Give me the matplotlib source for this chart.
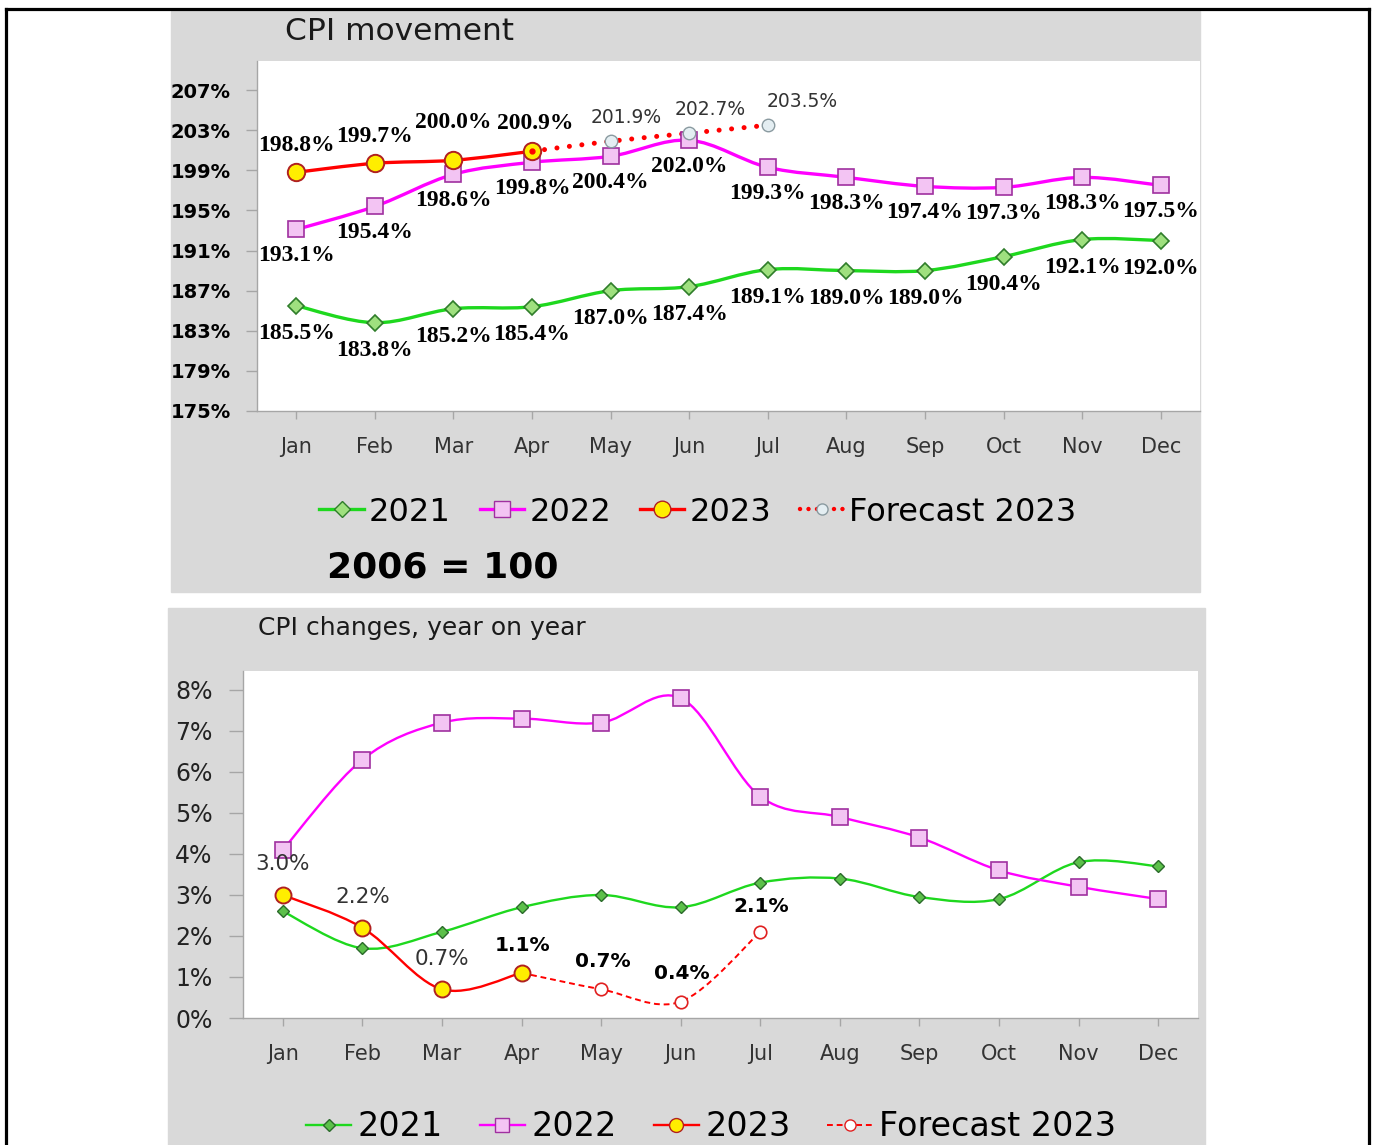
import matplotlib
matplotlib.use("Agg")
import matplotlib.pyplot as plt
from matplotlib.path import Path
from matplotlib.patches import PathPatch, Rectangle
from matplotlib.lines import Line2D

months = ['Jan', 'Feb', 'Mar', 'Apr', 'May', 'Jun', 'Jul', 'Aug', 'Sep', 'Oct', 'Nov', 'Dec']

# CPI index, 2006 = 100 (in %)
cpi_2021 = [185.5, 183.8, 185.2, 185.4, 187.0, 187.4, 189.1, 189.0, 189.0, 190.4, 192.1, 192.0]
cpi_2022 = [193.1, 195.4, 198.6, 199.8, 200.4, 202.0, 199.3, 198.3, 197.4, 197.3, 198.3, 197.5]
cpi_2023 = [198.8, 199.7, 200.0, 200.9]
cpi_fc_start = 3  # forecast starts at Apr
cpi_fc = [200.9, 201.9, 202.7, 203.5]

# year on year changes (in %)
yoy_2021 = [2.6, 1.7, 2.1, 2.7, 3.0, 2.7, 3.3, 3.4, 2.95, 2.9, 3.8, 3.7]
yoy_2022 = [4.1, 6.3, 7.2, 7.3, 7.2, 7.8, 5.4, 4.9, 4.4, 3.6, 3.2, 2.9]
yoy_2023 = [3.0, 2.2, 0.7, 1.1]
yoy_fc = [1.1, 0.7, 0.4, 2.1]

GREEN = '#1ed81e'
MAGENTA = '#ff00ff'
RED = '#ff0000'
PANEL = '#d9d9d9'
AXIS = '#a6a6a6'

W, H = 1376, 1145


def fx(px):
    return px / W


def fy(py):
    return 1 - py / H


def smooth_path(xs, ys):
    # Excel style smoothed line: cubic Bezier through the points
    pts = list(zip(xs, ys))
    verts = [pts[0]]
    codes = [Path.MOVETO]
    n = len(pts)
    for i in range(n - 1):
        p0 = pts[i - 1] if i > 0 else pts[i]
        p1 = pts[i]
        p2 = pts[i + 1]
        p3 = pts[i + 2] if i + 2 < n else pts[i + 1]
        c1 = (p1[0] + (p2[0] - p0[0]) / 6, p1[1] + (p2[1] - p0[1]) / 6)
        c2 = (p2[0] - (p3[0] - p1[0]) / 6, p2[1] - (p3[1] - p1[1]) / 6)
        verts += [c1, c2, p2]
        codes += [Path.CURVE4] * 3
    return Path(verts, codes)


def draw_line(ax, xs, ys, color, lw, ls='-', cap='butt', z=2):
    patch = PathPatch(smooth_path(xs, ys), facecolor='none', edgecolor=color,
                      linewidth=lw, linestyle=ls, capstyle=cap, zorder=z)
    ax.add_patch(patch)


def style_axes(ax):
    ax.set_facecolor('white')
    for s in ['top', 'right']:
        ax.spines[s].set_visible(False)
    for s in ['left', 'bottom']:
        ax.spines[s].set_color(AXIS)
        ax.spines[s].set_linewidth(1)
    ax.set_xlim(-0.5, 11.5)
    ax.set_xticks(range(12), months)
    ax.tick_params(axis='x', length=6, width=1, color=AXIS, pad=13,
                   labelsize=15, labelcolor='#333333')


fig = plt.figure(figsize=(W / 100, H / 100), dpi=100)

# grey chart panels
fig.add_artist(Rectangle((fx(171), fy(592)), (1200 - 171) / W, (592 - 11) / H,
                         transform=fig.transFigure, color=PANEL, zorder=0))
fig.add_artist(Rectangle((fx(168), fy(1150)), (1205 - 168) / W, (1150 - 608) / H,
                         transform=fig.transFigure, color=PANEL, zorder=0))

# page frame
for xs, ys in [([fx(6), fx(6)], [fy(1150), fy(9)]),
               ([fx(6), fx(1369)], [fy(9), fy(9)]),
               ([fx(1369), fx(1369)], [fy(9), fy(1150)])]:
    fig.add_artist(Line2D(xs, ys, transform=fig.transFigure, color='black', lw=2.3))

x_all = list(range(12))
x_2023 = list(range(len(cpi_2023)))
x_fc = list(range(cpi_fc_start, cpi_fc_start + len(cpi_fc)))

# ---------------- top chart: CPI movement ----------------
ax1 = fig.add_axes([fx(257), fy(411), (1200 - 257) / W, (411 - 61) / H])
style_axes(ax1)
ax1.set_ylim(175, 209.9)
yt = list(range(175, 208, 4))
ax1.set_yticks(yt, [f'{v}%' for v in yt], fontweight='bold')
ax1.tick_params(axis='y', length=8, width=1, color=AXIS, pad=11, labelsize=14, labelcolor='black')

draw_line(ax1, x_all, cpi_2021, GREEN, 2.4)
draw_line(ax1, x_all, cpi_2022, MAGENTA, 2.4)
draw_line(ax1, x_fc, cpi_fc, RED, 3.6, ls=(0, (0.01, 2.5)), cap='round', z=2.5)
draw_line(ax1, x_2023, cpi_2023, RED, 2.4, z=3)

ax1.plot(x_all, cpi_2021, ls='none', marker='D', ms=8, mfc='#9fe07f', mec='#2f7d2a', mew=1.2, zorder=4)
ax1.plot(x_all, cpi_2022, ls='none', marker='s', ms=11.5, mfc='#f3c4f3', mec='#a030a0', mew=1.2, zorder=4)
ax1.plot(x_fc[1:], cpi_fc[1:], ls='none', marker='o', ms=9, mfc='#e4eef2', mec='#8a9aa0', mew=1, zorder=4)
ax1.plot(x_2023, cpi_2023, ls='none', marker='o', ms=12.5, mfc='#ffee00', mec='#b02020', mew=1.4, zorder=5)
ax1.plot([x_fc[0]], [cpi_fc[0]], ls='none', marker='o', ms=3.5, mfc=RED, mec=RED, zorder=6)

lab_serif = dict(fontfamily='Liberation Serif', fontweight='bold', fontsize=17, color='black',
                 textcoords='offset points', ha='center', va='center', zorder=7)
for x, v in zip(x_all, cpi_2021):
    ax1.annotate(f'{v:.1f}%', (x, v), xytext=(0, -20), **lab_serif)
for x, v in zip(x_all, cpi_2022):
    ax1.annotate(f'{v:.1f}%', (x, v), xytext=(0, -19), **lab_serif)
up_2023 = [19, 19, 27, 20]
for x, v, dy in zip(x_2023, cpi_2023, up_2023):
    ax1.annotate(f'{v:.1f}%', (x, v), xytext=(2 if x == 3 else 0, dy), **lab_serif)
fc_dx = [11, 15, 25]
for x, v, dx in zip(x_fc[1:], cpi_fc[1:], fc_dx):
    ax1.annotate(f'{v:.1f}%', (x, v), xytext=(dx, 17), textcoords='offset points',
                 ha='center', va='center', fontsize=13.5, color='#333333', zorder=7)

fig.text(fx(285), fy(32), 'CPI movement', fontsize=22.5, color='#1a1a1a', ha='left', va='center')
fig.text(fx(327), fy(568), '2006 = 100', fontsize=26, fontweight='bold', color='black',
         ha='left', va='center')

h_top = [
    Line2D([], [], color=GREEN, lw=2.4, marker='D', ms=8, mfc='#9fe07f', mec='#2f7d2a'),
    Line2D([], [], color=MAGENTA, lw=2.4, marker='s', ms=11, mfc='#f3c4f3', mec='#a030a0'),
    Line2D([], [], color=RED, lw=2.4, marker='o', ms=12, mfc='#ffee00', mec='#b02020'),
    Line2D([], [], color=RED, lw=3.2, ls=(0, (0.01, 1.9)), dash_capstyle='round',
           marker='o', ms=8, mfc='#e4eef2', mec='#8a9aa0'),
]
fig.legend(h_top, ['2021', '2022', '2023', 'Forecast 2023'], loc='center',
           bbox_to_anchor=(fx(698), fy(512)), ncol=4, frameon=False, fontsize=23,
           handlelength=1.4, handletextpad=0.15, columnspacing=0.9)

# ---------------- bottom chart: CPI changes, year on year ----------------
ax2 = fig.add_axes([fx(243), fy(1018), (1198 - 243) / W, (1018 - 671) / H])
style_axes(ax2)
ax2.set_ylim(0, 8.46)
ax2.set_yticks(range(9), [f'{v}%' for v in range(9)])
ax2.tick_params(axis='y', length=10, width=1, color=AXIS, pad=12, labelsize=17, labelcolor='#222222')

draw_line(ax2, x_all, yoy_2021, GREEN, 1.7)
draw_line(ax2, x_all, yoy_2022, MAGENTA, 1.7)
draw_line(ax2, x_fc, yoy_fc, RED, 1.4, ls=(0, (3, 2)), z=2.5)
draw_line(ax2, x_2023, yoy_2023, RED, 1.7, z=3)

ax2.plot(x_all, yoy_2021, ls='none', marker='D', ms=6.5, mfc='#5cc04a', mec='#2a6a2a', mew=1, zorder=4)
ax2.plot(x_all, yoy_2022, ls='none', marker='s', ms=11, mfc='#f3c4f3', mec='#a030a0', mew=1.2, zorder=4)
ax2.plot(x_fc[1:], yoy_fc[1:], ls='none', marker='o', ms=9, mfc='white', mec='#e02020', mew=1.2, zorder=4)
ax2.plot(x_2023, yoy_2023, ls='none', marker='o', ms=11.5, mfc='#ffee00', mec='#b02020', mew=1.4, zorder=5)

for x, v in zip(x_2023[:3], yoy_2023[:3]):
    ax2.annotate(f'{v:.1f}%', (x, v), xytext=(0, 22), textcoords='offset points',
                 ha='center', va='center', fontsize=15.5, color='#333333', zorder=7)
bold_pts = [(x_2023[3], yoy_2023[3])] + list(zip(x_fc[1:], yoy_fc[1:]))
for x, v in bold_pts:
    ax2.annotate(f'{v:.1f}%', (x, v), xytext=(1, 20 if v < 2 else 18), textcoords='offset points',
                 ha='center', va='center', fontsize=14.5, fontweight='bold', color='black', zorder=7)

fig.text(fx(258), fy(628), 'CPI changes, year on year', fontsize=18, color='#1a1a1a',
         ha='left', va='center')

h_bot = [
    Line2D([], [], color=GREEN, lw=1.7, marker='D', ms=6, mfc='#5cc04a', mec='#2a6a2a'),
    Line2D([], [], color=MAGENTA, lw=1.7, marker='s', ms=10, mfc='#f3c4f3', mec='#a030a0'),
    Line2D([], [], color=RED, lw=1.7, marker='o', ms=10, mfc='#ffee00', mec='#b02020'),
    Line2D([], [], color=RED, lw=1.4, ls=(0, (3, 2)), marker='o', ms=8, mfc='white', mec='#e02020'),
]
fig.legend(h_bot, ['2021', '2022', '2023', 'Forecast 2023'], loc='center',
           bbox_to_anchor=(fx(711), fy(1127)), ncol=4, frameon=False, fontsize=24,
           handlelength=1.35, handletextpad=0.2, columnspacing=1.1)

fig.savefig('out.png', dpi=100, facecolor='white')
